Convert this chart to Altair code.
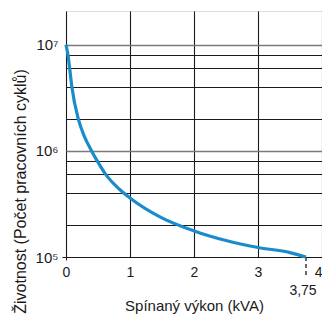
import altair as alt
import pandas as pd

# curve data
power_kva = [0, 0.031, 0.057, 0.092, 0.192, 0.285, 0.40, 0.49, 0.62, 0.826, 1.0, 1.49, 2.0, 2.5, 3.0, 3.5, 3.75]
life_cycles = [1e7, 8e6, 6e6, 4e6, 2e6, 1.38e6, 1e6, 8e5, 6e5, 4.4e5, 3.6e5, 2.35e5, 1.76e5, 1.43e5, 1.23e5, 1.1e5, 1e5]

x_ticks = [0, 0.5, 1, 1.5, 2, 2.5, 3, 3.5, 4]
y_ticks = [1e5, 2e5, 4e5, 6e5, 8e5, 1e6, 2e6, 4e6, 6e6, 8e6, 1e7]
marker_x = [3.75]
marker_label = ["3,75"]

FONT = "Liberation Sans"
INK = "#1a1a1a"

df = pd.DataFrame({"x": power_kva, "y": life_cycles})
mk = pd.DataFrame({"x": marker_x, "t": marker_label})

xscale = alt.Scale(domain=[0, 4], nice=False, zero=False)
yscale = alt.Scale(type="log", domain=[1e5, 2.08e7], nice=False)

xaxis = alt.Axis(
    values=x_ticks,
    title="Spínaný výkon (kVA)",
    labelExpr="datum.value % 1 == 0 ? format(datum.value, 'd') : ''",
    labelAlign={"condition": {"test": "datum.value >= 4", "value": "right"}, "value": "center"},
    labelFont=FONT, labelFontSize=14, labelColor=INK, labelPadding=5,
    titleFont=FONT, titleFontSize=15, titleFontWeight="normal", titleColor=INK, titlePadding=19,
    grid=True,
    gridColor={"condition": {"test": "datum.value % 1 != 0", "value": "#8a8a8a"}, "value": INK},
    gridWidth={"condition": {"test": "datum.value % 1 != 0", "value": 1.4}, "value": 1.1},
    domain=False,
    tickSize=3,
    tickColor={"condition": {"test": "datum.value == 0", "value": INK}, "value": "transparent"},
)

yaxis = alt.Axis(
    values=y_ticks,
    title="Životnost (Počet pracovních cyklů)",
    labelExpr="datum.value == 10000000 ? '10⁷' : datum.value == 1000000 ? '10⁶' : datum.value == 100000 ? '10⁵' : ''",
    labelFont=FONT, labelFontSize=15, labelColor=INK, labelPadding=4,
    titleFont=FONT, titleFontSize=16, titleFontWeight="normal", titleColor=INK,
    titleX=-41, titleY=180, titleBaseline="alphabetic",
    grid=True,
    gridColor={"condition": {"test": "datum.value == 10000000 || datum.value == 1000000", "value": "#7a7a7a"}, "value": INK},
    gridWidth={"condition": {"test": "datum.value == 10000000 || datum.value == 1000000", "value": 1.4}, "value": 1.1},
    domain=False,
    tickSize=4,
    tickColor={"condition": {"test": "datum.value == 100000", "value": INK}, "value": "transparent"},
)

curve = alt.Chart(df).mark_line(color="#1a8ccc", strokeWidth=3.2, interpolate="monotone").encode(
    x=alt.X("x:Q", scale=xscale, axis=xaxis),
    y=alt.Y("y:Q", scale=yscale, axis=yaxis),
)

rule = alt.Chart(mk).mark_rule(color=INK, strokeDash=[4, 3], strokeWidth=1.3).encode(
    x=alt.X("x:Q", scale=xscale),
    y=alt.value(246),
    y2=alt.value(266),
)

label = alt.Chart(mk).mark_text(font=FONT, fontSize=14, color=INK, dx=-3, baseline="middle").encode(
    x=alt.X("x:Q", scale=xscale),
    y=alt.value(280),
    text="t:N",
)

chart = alt.layer(rule, curve, label).properties(
    width=256,
    height=246,
    autosize=alt.AutoSizeParams(type="none"),
    padding={"left": 58, "top": 3, "right": 0, "bottom": 58},
).configure_view(stroke=INK, strokeWidth=1.2).configure(background="white")

chart.save("out.html", embed_options={"renderer": "svg", "actions": False})
